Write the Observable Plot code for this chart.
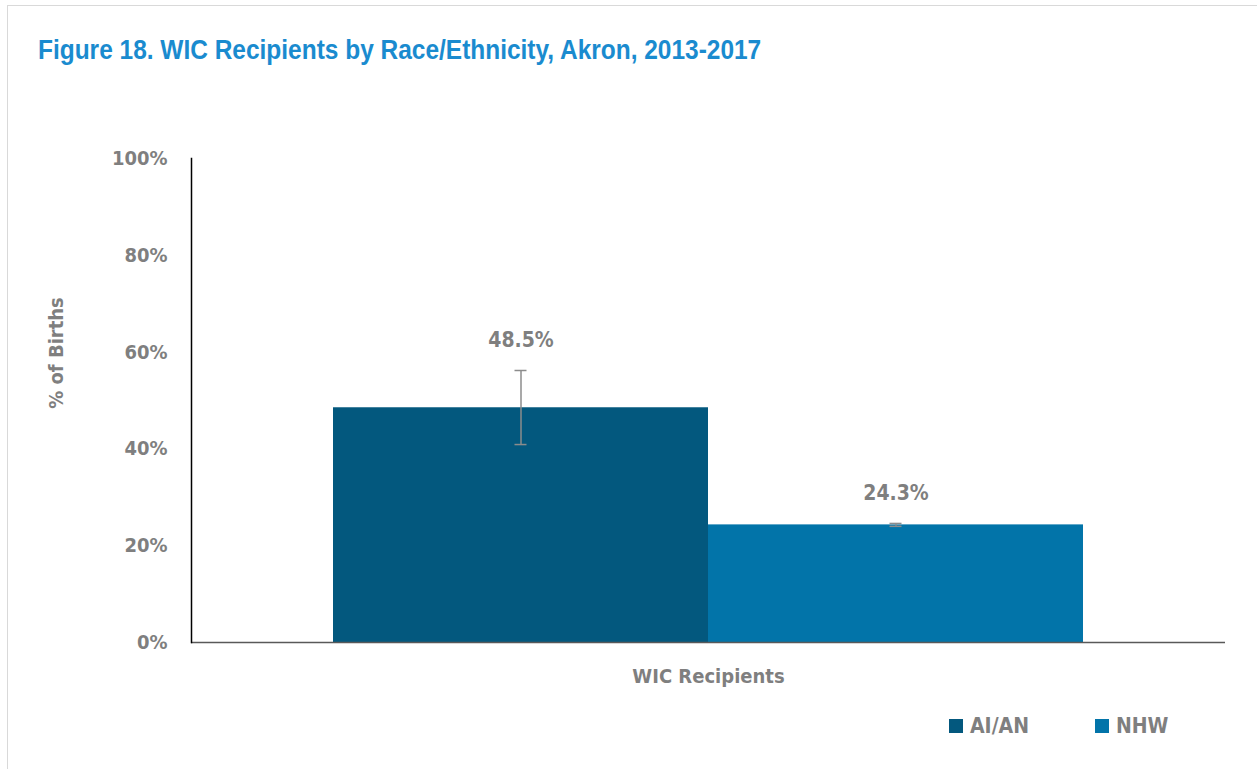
<!DOCTYPE html>
<html>
<head>
<meta charset="utf-8">
<script src="https://cdn.jsdelivr.net/npm/d3@7"></script>
<script src="https://cdn.jsdelivr.net/npm/@observablehq/plot@0.6"></script>
<style>
  body { margin: 0; background: #fff; }
  #wrap { position: relative; width: 1257px; height: 769px; overflow: hidden; font-family: "DejaVu Sans Condensed", "DejaVu Sans", sans-serif; }
  #frameBox { position: absolute; left: 7px; top: 5px; width: 1260px; height: 780px; border-left: 1px solid #d9d9d9; border-top: 1px solid #d9d9d9; }
  #title { position: absolute; left: 38px; top: 35px; font-family: "Liberation Sans", Arial, sans-serif; font-size: 27px; line-height: 30px; font-weight: bold; color: #1a8bcf; white-space: nowrap; transform-origin: 0 0; transform: scaleX(0.906); }
  #ytitle { position: absolute; left: 56px; top: 353px; font-size: 20px; font-weight: bold; color: #7f7f7f; white-space: nowrap; transform: translate(-50%, -50%) rotate(-90deg); }
  #plot { position: absolute; left: 0; top: 0; }
  #legend { position: absolute; top: 714px; left: 949px; display: flex; font-size: 21px; font-weight: bold; color: #7f7f7f; }
  .item { display: flex; align-items: center; }
  .sw { width: 14px; height: 14px; margin-right: 7px; }
</style>
</head>
<body>
<div id="wrap">
  <div id="frameBox"></div>
  <div id="title">Figure 18. WIC Recipients by Race/Ethnicity, Akron, 2013-2017</div>
  <div id="plot"></div>
  <div id="ytitle"></div>
  <div id="legend"></div>
</div>
<script>
const categories = ["WIC Recipients"];
const groups = ["AI/AN", "NHW"];
const values = [48.5, 24.3];
const lower = [40.9, 24.0];
const upper = [56.2, 24.6];
const colors = ["#03587e", "#0274a9"];
const yTicks = [0, 20, 40, 60, 80, 100];
const yTitle = "% of Births";

const data = groups.map((g, i) => ({
  cat: categories[0], group: g, value: values[i], lo: lower[i], hi: upper[i]
}));

const font = '"DejaVu Sans Condensed", "DejaVu Sans", sans-serif';

const chart = Plot.plot({
  width: 1257,
  height: 700,
  marginLeft: 191,
  marginRight: 32,
  marginTop: 158,
  marginBottom: 58,
  style: { fontFamily: font, fontWeight: "bold", color: "#7f7f7f", background: "transparent", overflow: "visible" },
  fx: { domain: categories, padding: 0, label: null },
  x: { domain: groups, paddingInner: 0, paddingOuter: 0.377, axis: null },
  y: { domain: [0, 100], ticks: yTicks, tickFormat: d => d + "%" },
  color: { domain: groups, range: colors },
  marks: [
    Plot.axisY({ ticks: yTicks, tickFormat: d => d + "%", tickSize: 0, tickPadding: 24, fontSize: 20, fill: "#7f7f7f", label: null }),
    Plot.axisFx({ anchor: "bottom", tickSize: 0, tickPadding: 26, fontSize: 20, fill: "#7f7f7f", label: null }),
    Plot.barY(data, { fx: "cat", x: "group", y: "value", fill: "group" }),
    Plot.ruleY([0], { stroke: "#595959", strokeWidth: 1.5 }),
    Plot.frame({ anchor: "left", stroke: "#000", strokeWidth: 1.5 }),
    Plot.ruleX(data, { fx: "cat", x: "group", y1: "lo", y2: "hi", stroke: "#8c8c8c", strokeWidth: 1.5 }),
    Plot.tickY(data, { fx: "cat", x: "group", y: "lo", stroke: "#8c8c8c", strokeWidth: 1.5, insetLeft: 181.5, insetRight: 181.5 }),
    Plot.tickY(data, { fx: "cat", x: "group", y: "hi", stroke: "#8c8c8c", strokeWidth: 1.5, insetLeft: 181.5, insetRight: 181.5 }),
    Plot.text(data, { fx: "cat", x: "group", y: "hi", text: d => d.value.toFixed(1) + "%", dy: -30, fontSize: 21, fontWeight: "bold", fill: "#7f7f7f" })
  ]
});
document.getElementById("plot").appendChild(chart);
document.getElementById("ytitle").textContent = yTitle;

const legend = document.getElementById("legend");
groups.forEach((g, i) => {
  const item = document.createElement("div");
  item.className = "item";
  item.style.marginRight = i === 0 ? "66px" : "0";
  const sw = document.createElement("div");
  sw.className = "sw";
  sw.style.background = colors[i];
  const t = document.createElement("span");
  t.textContent = g;
  item.appendChild(sw);
  item.appendChild(t);
  legend.appendChild(item);
});
</script>
</body>
</html>
